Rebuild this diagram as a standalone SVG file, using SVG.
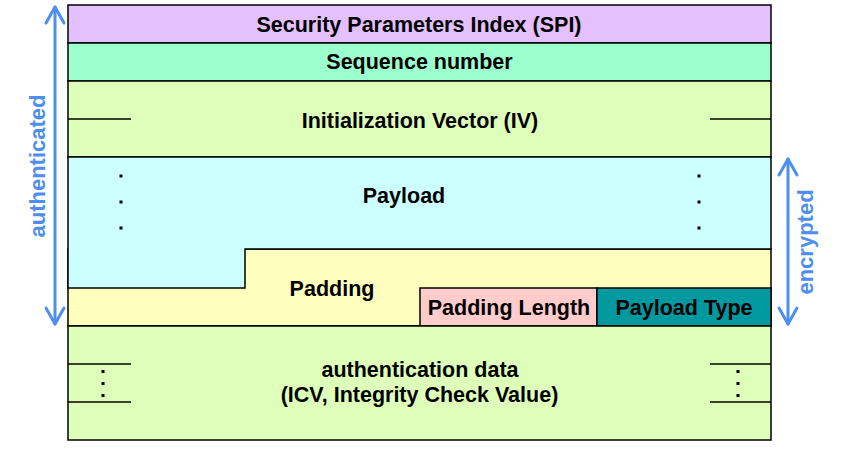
<svg xmlns="http://www.w3.org/2000/svg" width="850" height="465" viewBox="0 0 850 465">
  <defs>
    <style>
      .lbl { font-family: "Liberation Sans", Arial, sans-serif; font-weight: bold; font-size: 21.5px; fill: #000; text-anchor: middle; }
      .side { font-family: "Liberation Sans", Arial, sans-serif; font-weight: bold; font-size: 22px; fill: #4D8EF0; text-anchor: middle; }
      .box { stroke: #000; stroke-width: 1.5; }
      .tick { stroke: #000; stroke-width: 1.5; fill: none; }
      .arrow { stroke: #4D8EF0; stroke-width: 3; fill: none; stroke-linecap: round; stroke-linejoin: round; }
      .dot { fill: #000; }
    </style>
  </defs>

  <rect width="850" height="465" fill="#fff"/>

  <!-- packet fields -->
  <g id="spi">
    <rect class="box" x="68" y="5" width="703" height="38" fill="#E4C0FF"/>
    <text class="lbl" x="419" y="32">Security Parameters Index (SPI)</text>
  </g>
  <g id="sequence">
    <rect class="box" x="68" y="43" width="703" height="38" fill="#9CFFCE"/>
    <text class="lbl" x="419.5" y="68.5">Sequence number</text>
  </g>
  <g id="iv">
    <rect class="box" x="68" y="81" width="703" height="76" fill="#DDFFBA"/>
    <line class="tick" x1="68" y1="119" x2="131" y2="119"/>
    <line class="tick" x1="710" y1="119" x2="771" y2="119"/>
    <text class="lbl" x="420" y="128">Initialization Vector (IV)</text>
  </g>
  <g id="padding">
    <rect class="box" x="68" y="249" width="703" height="77" fill="#FFFFBD"/>
    <text class="lbl" x="332" y="296">Padding</text>
  </g>
  <g id="payload">
    <path class="box" d="M68 157 H771 V249 H245 V288 H68 Z" fill="#CCFFFF"/>
    <text class="lbl" x="404" y="203">Payload</text>
    <rect class="dot" x="119.5" y="174.5" width="3" height="3"/>
    <rect class="dot" x="119.5" y="200.5" width="3" height="3"/>
    <rect class="dot" x="119.5" y="226.5" width="3" height="3"/>
    <rect class="dot" x="697.5" y="174.5" width="3" height="3"/>
    <rect class="dot" x="697.5" y="200.5" width="3" height="3"/>
    <rect class="dot" x="697.5" y="226.5" width="3" height="3"/>
  </g>
  <g id="padding-length">
    <rect class="box" x="420" y="288" width="177" height="38" fill="#FFCCCC"/>
    <text class="lbl" x="509" y="315">Padding Length</text>
  </g>
  <g id="payload-type">
    <rect class="box" x="597" y="288" width="174" height="38" fill="#00999F"/>
    <text class="lbl" x="684" y="315">Payload Type</text>
  </g>
  <g id="auth-data">
    <rect class="box" x="68" y="326" width="703" height="114" fill="#DDFFBA"/>
    <line class="tick" x1="68" y1="364" x2="131" y2="364"/>
    <line class="tick" x1="68" y1="402" x2="131" y2="402"/>
    <line class="tick" x1="710" y1="364" x2="771" y2="364"/>
    <line class="tick" x1="710" y1="402" x2="771" y2="402"/>
    <rect class="dot" x="101.5" y="370" width="3" height="3"/>
    <rect class="dot" x="101.5" y="382" width="3" height="3"/>
    <rect class="dot" x="101.5" y="394" width="3" height="3"/>
    <rect class="dot" x="736.5" y="370" width="3" height="3"/>
    <rect class="dot" x="736.5" y="382" width="3" height="3"/>
    <rect class="dot" x="736.5" y="394" width="3" height="3"/>
    <text class="lbl" x="420" y="377">authentication data</text>
    <text class="lbl" x="419.5" y="402">(ICV, Integrity Check Value)</text>
  </g>

  <!-- coverage markers -->
  <g id="connectors">
    <g id="authenticated">
      <line class="arrow" x1="55" y1="7" x2="55" y2="324"/>
      <polyline class="arrow" points="46,23 55,7 64,23"/>
      <polyline class="arrow" points="46,308 55,324 64,308"/>
      <text class="side" transform="translate(45,166) rotate(-90)">authenticated</text>
    </g>
    <g id="encrypted">
      <line class="arrow" x1="788" y1="159" x2="788" y2="324"/>
      <polyline class="arrow" points="779,175 788,159 797,175"/>
      <polyline class="arrow" points="779,308 788,324 797,308"/>
      <text class="side" transform="translate(813,242) rotate(-90)">encrypted</text>
    </g>
  </g>
</svg>
